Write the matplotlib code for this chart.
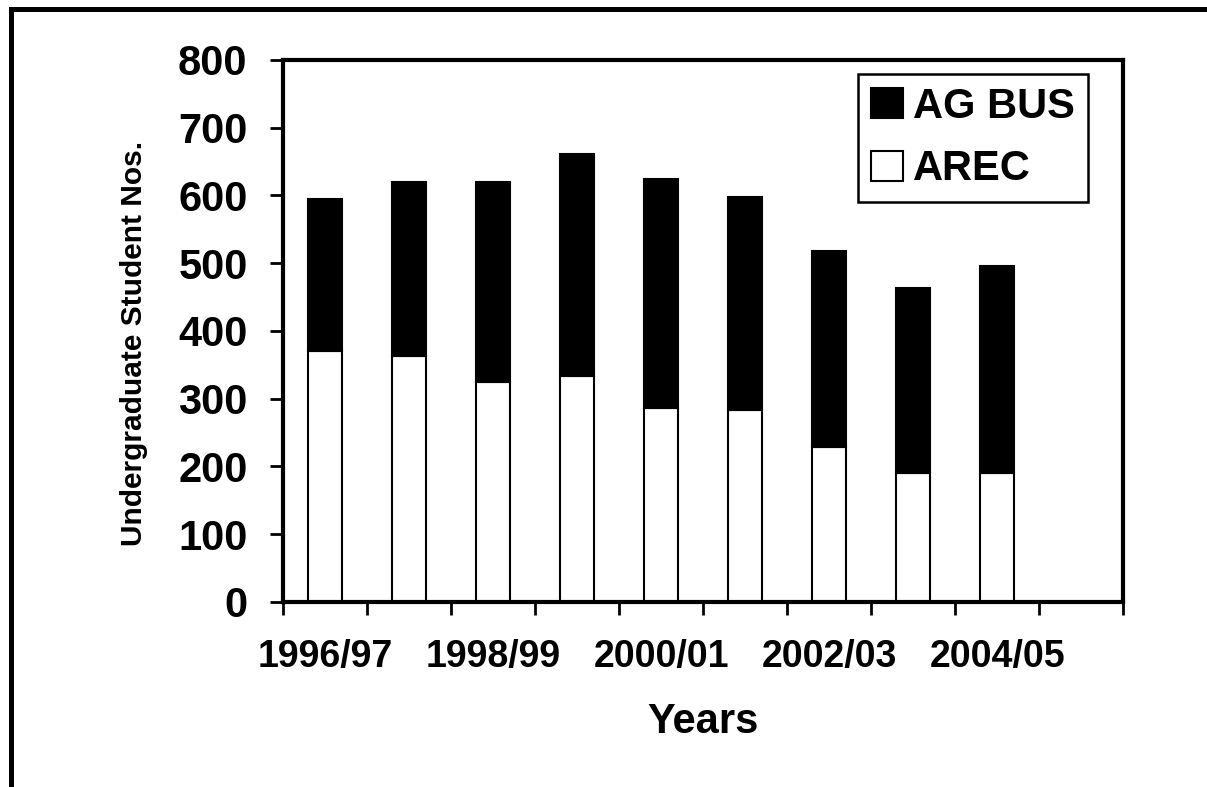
import matplotlib.pyplot as plt
from matplotlib.lines import Line2D
import numpy as np

years = ["1996/97", "1997/98", "1998/99", "1999/00", "2000/01",
         "2001/02", "2002/03", "2003/04", "2004/05"]
arec = [371, 363, 324, 334, 287, 284, 229, 190, 190]
ag_bus = [224, 257, 296, 327, 338, 314, 289, 273, 306]

n_slots = 10  # Excel left an empty category at the end

plt.rcParams["font.family"] = ["Liberation Sans", "DejaVu Sans"]

fig = plt.figure(figsize=(12.07, 7.87), dpi=100)
ax = fig.add_axes([0.2345, 0.2351, 0.696, 0.6887])

x = np.arange(len(years))
ax.bar(x, arec, width=0.4, color="white", edgecolor="black", linewidth=1.5,
       label="AREC", zorder=2)
ax.bar(x, ag_bus, width=0.4, bottom=arec, color="black", edgecolor="black",
       linewidth=1.5, label="AG BUS", zorder=2)

ax.set_xlim(-0.5, n_slots - 0.5)
ax.set_ylim(0, 800)
ax.set_yticks(range(0, 801, 100))
ax.tick_params(axis="y", labelsize=30, length=9.5, width=2, direction="out", pad=16)
for lab in ax.get_yticklabels():
    lab.set_fontweight("bold")

ax.set_xticks(np.arange(n_slots + 1) - 0.5)
ax.set_xticklabels([])
ax.tick_params(axis="x", length=9, width=2, direction="out")
for i in range(0, len(years), 2):
    ax.text(i, -0.1015, years[i], transform=ax.get_xaxis_transform(),
            ha="center", va="center", fontsize=27, fontweight="bold")

ax.text(0.5, -0.221, "Years", transform=ax.transAxes, ha="center", va="center",
        fontsize=30, fontweight="bold")
fig.text(0.111, 0.563, "Undergraduate Student Nos.", rotation=90,
         ha="center", va="center", fontsize=21.5, fontweight="bold")

for sp in ax.spines.values():
    sp.set_linewidth(3)

handles, labels = ax.get_legend_handles_labels()
leg = ax.legend(handles[::-1], labels[::-1], loc="upper right",
                bbox_to_anchor=(0.958, 0.974), borderaxespad=0,
                fancybox=False, framealpha=1, edgecolor="black",
                prop={"weight": "bold", "size": 30},
                handlelength=0.77, handleheight=0.75, handletextpad=0.26,
                labelspacing=0.55, borderpad=0.3)
leg.get_frame().set_linewidth(1.8)

# outer chart border (left and top edges visible)
fig.add_artist(Line2D([0.0087, 0.0087], [0.0, 0.989], color="black", lw=3.6,
                      transform=fig.transFigure))
fig.add_artist(Line2D([0.0087, 1.0], [0.989, 0.989], color="black", lw=3.6,
                      transform=fig.transFigure))

fig.savefig("out.png", dpi=100)
